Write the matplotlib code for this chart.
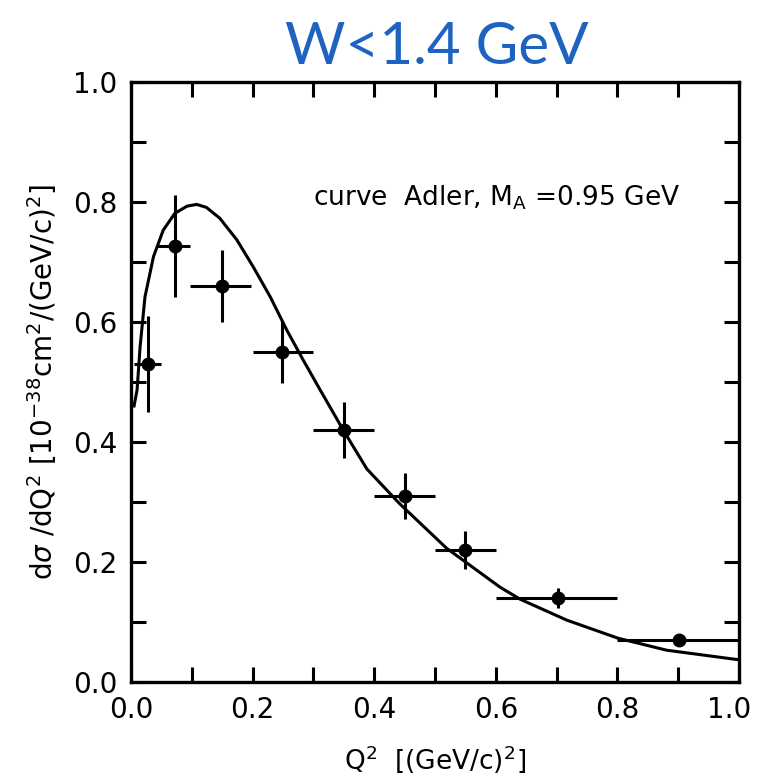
import numpy as np
import matplotlib
matplotlib.use("Agg")
import matplotlib.pyplot as plt
from matplotlib.transforms import ScaledTranslation

# data points
q2 = [0.028, 0.073, 0.149, 0.248, 0.35, 0.45, 0.55, 0.702, 0.902]
q2_lo = [0.005, 0.043, 0.097, 0.20, 0.30, 0.40, 0.50, 0.60, 0.80]
q2_hi = [0.049, 0.097, 0.197, 0.30, 0.40, 0.50, 0.60, 0.80, 1.00]
xsec = [0.53, 0.726, 0.66, 0.55, 0.42, 0.31, 0.22, 0.14, 0.07]
xsec_err = [0.08, 0.085, 0.06, 0.052, 0.046, 0.038, 0.032, 0.017, 0.009]

# Adler model curve, M_A = 0.95 GeV
curve_x = [0.005, 0.010, 0.015, 0.023, 0.037, 0.053, 0.072, 0.092, 0.108, 0.124,
           0.146, 0.174, 0.201, 0.229, 0.256, 0.283, 0.311, 0.349, 0.388, 0.442,
           0.519, 0.607, 0.640, 0.717, 0.801, 0.881, 1.0]
curve_y = [0.46, 0.487, 0.559, 0.642, 0.709, 0.753, 0.781, 0.793, 0.796, 0.791,
           0.773, 0.737, 0.692, 0.642, 0.587, 0.537, 0.487, 0.42, 0.355, 0.297,
           0.223, 0.158, 0.138, 0.103, 0.073, 0.053, 0.037]

x_ticklabels = ["0.0", "0.2", "0.4", "0.6", "0.8", "1.0"]
y_ticklabels = ["0.0", "0.2", "0.4", "0.6", "0.8", "1.0"]

fig = plt.figure(figsize=(7.59, 7.83), dpi=100)
ax = fig.add_axes([131/759, 101/783, 608/759, 600/783])

q2 = np.array(q2)
xerr = [q2 - np.array(q2_lo), np.array(q2_hi) - q2]
ax.errorbar(q2, xsec, xerr=xerr, yerr=xsec_err, fmt='o', color='black',
            markersize=9, elinewidth=2.2, capsize=0)
ax.plot(curve_x, curve_y, color='black', lw=2.2, solid_joinstyle='round')

ax.set_xlim(0, 1.0)
ax.set_ylim(0, 1.0)
ax.set_xticks(np.arange(0, 1.01, 0.2))
ax.set_xticklabels(x_ticklabels)
ax.set_yticks(np.arange(0, 1.01, 0.2))
ax.set_yticklabels(y_ticklabels)
ax.set_xticks(np.arange(0.1, 1.0, 0.2), minor=True)
ax.set_yticks(np.arange(0.1, 1.0, 0.2), minor=True)
ax.tick_params(which='both', direction='in', top=True, right=True,
               length=11, width=2.2, labelsize=20, pad=10)
for s in ax.spines.values():
    s.set_linewidth(2.4)

# last x label sits at the figure edge; nudge it left a little
last = ax.get_xticklabels()[-1]
last.set_transform(last.get_transform() + ScaledTranslation(-0.1, 0, fig.dpi_scale_trans))

ax.text(0.30, 0.807, r"curve  Adler, M$_\mathregular{A}$ =0.95 GeV", fontsize=19,
        va='center')

ax.set_xlabel(r"Q$^\mathregular{2}$  [(GeV/c)$^\mathregular{2}$]", fontsize=19, labelpad=14)
ax.set_ylabel(r"d$\sigma$ /dQ$^\mathregular{2}$ [10$^\mathregular{-38}$cm$^\mathregular{2}$/(GeV/c)$^\mathregular{2}$]",
              fontsize=20, labelpad=10)

fig.text(437/759, 1 - 48/783, "W<1.4 GeV", color='#1f63c2', fontsize=42,
         family='Lato', ha='center', va='center')

fig.savefig("out.png", dpi=100)
